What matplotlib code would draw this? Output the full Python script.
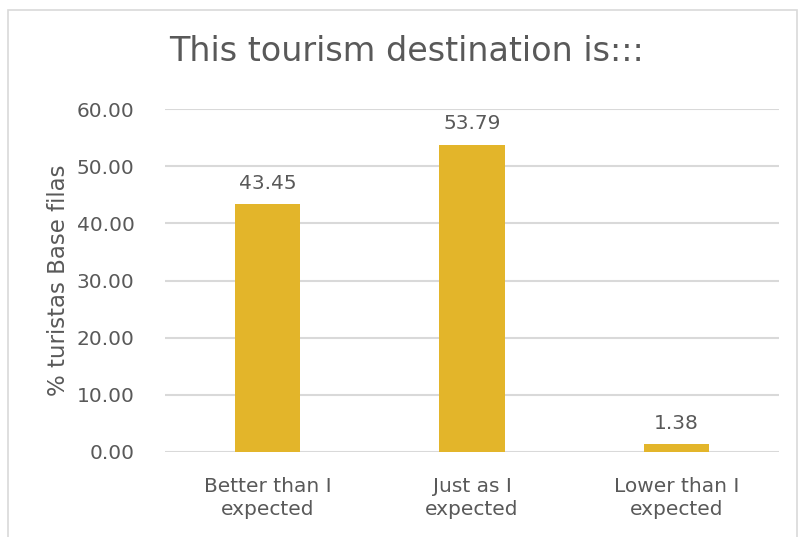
import matplotlib.pyplot as plt
from matplotlib.patches import Rectangle

# data
categories = ["Better than I\nexpected", "Just as I\nexpected", "Lower than I\nexpected"]
values = [43.45, 53.79, 1.38]
yticks = [0, 10, 20, 30, 40, 50, 60]

bar_color = "#E3B52A"
text_color = "#595959"
grid_color = "#D9D9D9"

plt.rcParams['font.family'] = ['DejaVu Sans']

fig = plt.figure(figsize=(7.98, 5.37), dpi=100)
ax = fig.add_axes([0.2068, 0.1583, 0.7694, 0.6387])

x = range(len(categories))
bars = ax.bar(x, values, width=0.32, color=bar_color, zorder=3)

ax.set_xlim(-0.5, 2.5)
ax.set_ylim(0, 60)
ax.set_yticks(yticks)
ax.set_yticklabels([f"{v:.2f}" for v in yticks])
ax.set_xticks(list(x))
ax.set_xticklabels(categories, linespacing=1.3)

ax.grid(axis="y", color=grid_color, linewidth=1.5, zorder=0)
for s in ax.spines.values():
    s.set_visible(False)
ax.tick_params(axis="both", length=0, colors=text_color, labelsize=14.5)
ax.tick_params(axis="y", pad=22)
ax.tick_params(axis="x", pad=18)

for b, v in zip(bars, values):
    ax.annotate(f"{v:.2f}", (b.get_x() + b.get_width() / 2, v),
                xytext=(0, 8), textcoords="offset points",
                ha="center", va="bottom", fontsize=14.5, color=text_color)

ax.set_ylabel("% turistas Base filas", fontsize=16.5, color=text_color, labelpad=5)
fig.text(0.51, 0.905, "This tourism destination is:::", ha="center", va="center",
         fontsize=24, color=text_color)

# chart border
fig.patches.append(Rectangle((8 / 798, -0.01), 789 / 798, 1 - 10 / 537 + 0.01,
                             transform=fig.transFigure, fill=False,
                             edgecolor="#D9D9D9", linewidth=1.2))

fig.savefig("out.png", dpi=100)
